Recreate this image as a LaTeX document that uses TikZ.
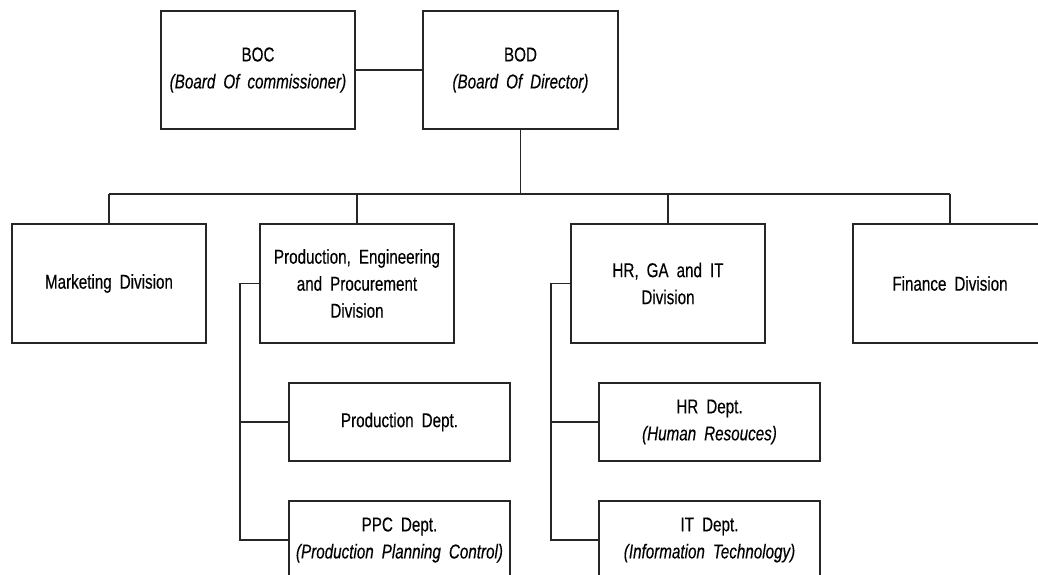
\documentclass[tikz,border=0pt]{standalone}
\usepackage{fontspec}
\setmainfont[FakeStretch=0.76,WordSpace=1.9,FakeBold=0.3]{Liberation Sans}
\begin{document}
\begin{tikzpicture}[x=1pt,y=1pt,
  box/.style={draw=black!85, line width=1.1pt, inner sep=0pt, align=center,
    font=\fontsize{20}{27}\selectfont},
  div/.style={box, minimum width=194pt, minimum height=119pt},
  dep/.style={box, minimum width=221pt, minimum height=78pt},
  top/.style={box, minimum height=118pt},
  conn/.style={draw=black!85, line width=1.1pt}]
\useasboundingbox (0,0) rectangle (1038,-574);
\clip (0,0) rectangle (1038,-574);
% top level
\node[top, minimum width=194pt] (boc) at (258,-70) {BOC\\\textit{(Board Of commissioner)}};
\node[top, minimum width=195pt] (bod) at (520.5,-70) {BOD\\\textit{(Board Of Director)}};
% divisions
\node[div] (mkt) at (109,-283.5) {Marketing Division};
\node[div] (pep) at (357,-283.5) {Production, Engineering\\and Procurement\\Division};
\node[div] (hrg) at (668,-283.5) {HR, GA and IT\\Division};
\node[div] (fin) at (950,-283.5) {Finance Division};
% departments
\node[dep] (prod) at (399.5,-422) {Production Dept.};
\node[dep] (ppc) at (399.5,-540) {PPC Dept.\\\textit{(Production Planning Control)}};
\node[dep] (hrd) at (709.5,-422) {HR Dept.\\\textit{(Human Resouces)}};
\node[dep] (itd) at (709.5,-540) {IT Dept.\\\textit{(Information Technology)}};
% helper coordinates
\coordinate (bus) at (0,-194);
\coordinate (pbr) at (240,0);
\coordinate (hbr) at (551,0);
% connectors
\draw[conn] (boc.east) -- (bod.west);
\draw[conn] (bod.south) -- (bod.south |- bus);
\draw[conn] (mkt.north |- bus) -- (fin.north |- bus);
\draw[conn] (mkt.north) -- (mkt.north |- bus);
\draw[conn] (pep.north) -- (pep.north |- bus);
\draw[conn] (hrg.north) -- (hrg.north |- bus);
\draw[conn] (fin.north) -- (fin.north |- bus);
\draw[conn] (pep.west) -- (pep.west -| pbr) |- (ppc.west);
\draw[conn] (prod.west -| pbr) -- (prod.west);
\draw[conn] (hrg.west) -- (hrg.west -| hbr) |- (itd.west);
\draw[conn] (hrd.west -| hbr) -- (hrd.west);
\end{tikzpicture}
\end{document}
